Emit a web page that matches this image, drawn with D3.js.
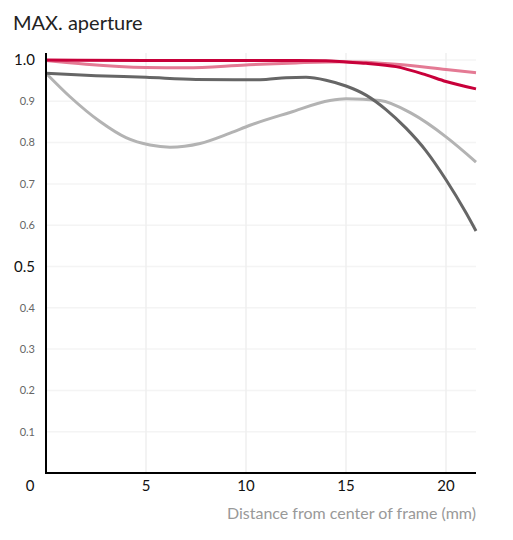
<!DOCTYPE html>
<html>
<head>
<meta charset="utf-8">
<script src="https://cdn.jsdelivr.net/npm/d3@7"></script>
<style>
  body { margin: 0; background: #fff; font-family: Lato, "Open Sans", sans-serif; }
</style>
</head>
<body>
<svg id="chart"></svg>
<script>
// distance from center (mm) and relative illumination
const redX = [0, 5, 10, 12.5, 14, 15, 16, 17.5, 19, 20, 21.5];
const redY = [1.0, 0.999, 0.999, 0.999, 0.998, 0.995, 0.992, 0.984, 0.964, 0.948, 0.930];

const pinkX = [0, 2, 5, 7, 10, 12.5, 15, 17.5, 20, 21.5];
const pinkY = [0.999, 0.99, 0.982, 0.981, 0.988, 0.993, 0.996, 0.99, 0.977, 0.969];

const darkX = [0, 2.5, 5, 7.5, 10, 11, 12, 13, 14, 15, 16, 17, 18, 19, 20, 21, 21.5];
const darkY = [0.968, 0.962, 0.958, 0.953, 0.952, 0.953, 0.957, 0.958, 0.951, 0.937, 0.915, 0.880, 0.835, 0.780, 0.710, 0.630, 0.586];

const lightX = [0, 1.2, 2.7, 4, 5.2, 6.2, 7.7, 9.2, 10.2, 12.2, 14.2, 15, 16.7, 18.3, 20, 21.5];
const lightY = [0.968, 0.911, 0.851, 0.812, 0.794, 0.789, 0.798, 0.823, 0.842, 0.873, 0.902, 0.906, 0.902, 0.870, 0.814, 0.753];

const xTicks = [0, 5, 10, 15, 20];
const yTicks = [0.1, 0.2, 0.3, 0.4, 0.5, 0.6, 0.7, 0.8, 0.9, 1.0];

const width = 513, height = 540;
const margin = { top: 53, right: 37, bottom: 67, left: 46 };

const svg = d3.select("#chart")
    .attr("width", width)
    .attr("height", height);

const x = d3.scaleLinear()
    .domain([0, 21.5])
    .range([margin.left, width - margin.right]);

const y = d3.scaleLinear()
    .domain([0, 1])
    .range([473, 60]);

// grid
svg.append("g")
    .selectAll("line")
    .data(yTicks)
    .join("line")
    .attr("x1", x(0)).attr("x2", x(21.5))
    .attr("y1", d => y(d)).attr("y2", d => y(d))
    .attr("stroke", "#f4f4f4")
    .attr("stroke-width", 1.5);

svg.append("g")
    .selectAll("line")
    .data(xTicks.slice(1))
    .join("line")
    .attr("x1", d => x(d)).attr("x2", d => x(d))
    .attr("y1", margin.top).attr("y2", y(0))
    .attr("stroke", "#efefef")
    .attr("stroke-width", 1.5);

// lines
const series = [
    { xs: lightX, ys: lightY, color: "#b3b3b3" },
    { xs: darkX, ys: darkY, color: "#666666" },
    { xs: pinkX, ys: pinkY, color: "#e47a94" },
    { xs: redX, ys: redY, color: "#c8003a" }
];

const line = d3.line()
    .x(d => x(d[0]))
    .y(d => y(d[1]))
    .curve(d3.curveMonotoneX);

svg.append("g")
    .selectAll("path")
    .data(series)
    .join("path")
    .attr("d", s => line(s.xs.map((v, i) => [v, s.ys[i]])))
    .attr("fill", "none")
    .attr("stroke", s => s.color)
    .attr("stroke-width", 3)
    .attr("stroke-linecap", "butt");

// axes
svg.append("line")
    .attr("x1", x(0)).attr("x2", x(0))
    .attr("y1", margin.top).attr("y2", y(0) + 1)
    .attr("stroke", "#000").attr("stroke-width", 2);

svg.append("line")
    .attr("x1", x(0) - 1).attr("x2", x(21.5))
    .attr("y1", y(0)).attr("y2", y(0))
    .attr("stroke", "#000").attr("stroke-width", 2);

// y tick labels
svg.append("g")
    .selectAll("text")
    .data(yTicks)
    .join("text")
    .attr("x", 35)
    .attr("y", d => y(d))
    .attr("dy", "0.35em")
    .attr("text-anchor", "end")
    .style("font-size", d => (d === 0.5 || d === 1.0) ? "15px" : "11px")
    .attr("fill", d => (d === 0.5 || d === 1.0) ? "#111" : "#666")
    .text(d => d.toFixed(1));

// x tick labels
svg.append("g")
    .selectAll("text")
    .data(xTicks)
    .join("text")
    .attr("x", d => d === 0 ? 30 : x(d))
    .attr("y", 491)
    .attr("text-anchor", "middle")
    .style("font-size", "15px")
    .attr("fill", "#111")
    .text(d => d);

svg.append("text")
    .attr("x", x(21.5))
    .attr("y", 519)
    .attr("text-anchor", "end")
    .style("font-size", "16px")
    .attr("fill", "#999")
    .text("Distance from center of frame (mm)");

svg.append("text")
    .attr("x", 13)
    .attr("y", 30)
    .style("font-size", "20px")
    .attr("fill", "#222")
    .text("MAX. aperture");
</script>
</body>
</html>
